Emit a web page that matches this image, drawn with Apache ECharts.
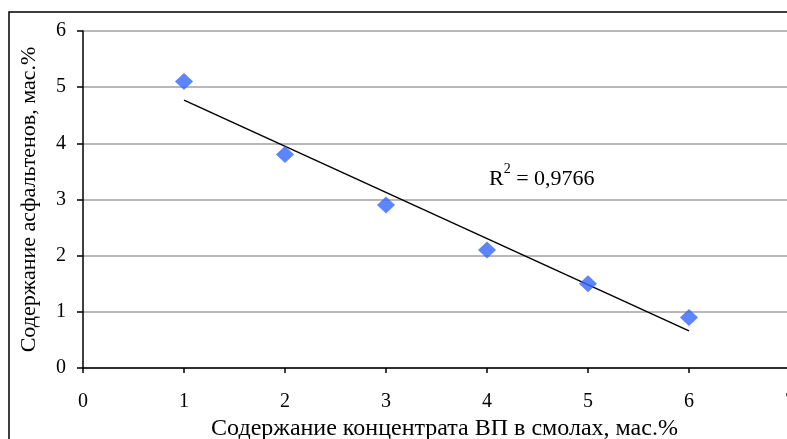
<!DOCTYPE html>
<html>
<head>
<meta charset="utf-8">
<script src="https://cdn.jsdelivr.net/npm/echarts@6/dist/echarts.min.js"></script>
<style>
  html, body { margin: 0; padding: 0; overflow: hidden; background: #fff; }
  #chart { width: 800px; height: 439px; }
</style>
</head>
<body>
<div id="chart"></div>
<script>
  // data
  var xValues = [1, 2, 3, 4, 5, 6];
  var yValues = [5.1, 3.8, 2.9, 2.1, 1.5, 0.9];
  var trendX = [1, 6];
  var trendY = [4.77, 0.66];
  var r2Text = '0,9766';

  var points = xValues.map(function (x, i) { return [x, yValues[i]]; });
  var trend = trendX.map(function (x, i) { return [x, trendY[i]]; });

  var font = '"Liberation Serif", "Times New Roman", serif';
  var echart = echarts.init(document.getElementById('chart'));
  var option = {
    animation: false,
    textStyle: { fontFamily: font },
    grid: { left: 83, right: 10, top: 31, bottom: 71, containLabel: false, outerBoundsMode: 'none' },
    xAxis: {
      type: 'value', min: 0, max: 7, interval: 1,
      name: 'Содержание концентрата ВП в смолах, мас.%',
      nameLocation: 'middle', nameGap: 49,
      nameTextStyle: { fontFamily: font, fontSize: 24, color: '#000', padding: [0, 0, 0, 16] },
      axisLine: { onZero: false, lineStyle: { color: '#000', width: 1.5 } },
      axisTick: { show: true, inside: false, length: 5, lineStyle: { color: '#000', width: 1.5 } },
      axisLabel: { margin: 24, fontFamily: font, fontSize: 20, color: '#000', showMaxLabel: true, hideOverlap: false },
      splitLine: { show: false }
    },
    yAxis: {
      type: 'value', min: 0, max: 6, interval: 1,
      name: 'Содержание асфальтенов, мас.%',
      nameLocation: 'middle', nameGap: 43,
      nameTextStyle: { fontFamily: font, fontSize: 22, color: '#000' },
      axisLine: { show: true, onZero: false, lineStyle: { color: '#000', width: 1.5 } },
      axisTick: { show: true, inside: false, length: 6, lineStyle: { color: '#000', width: 1.5 } },
      axisLabel: { margin: 17, fontFamily: font, fontSize: 20, color: '#000' },
      splitLine: { show: true, lineStyle: { color: '#a0a0a0', width: 1.5 } }
    },
    graphic: [
      {
        type: 'rect', silent: true, z: 100,
        shape: { x: 9, y: 12, width: 900, height: 600 },
        style: { fill: 'none', stroke: '#000', lineWidth: 1.5 }
      },
      {
        type: 'text', left: 489, top: 162, z: 100,
        style: {
          text: '{r|R}{s|2}{r| = ' + r2Text + '}',
          rich: {
            r: { fontFamily: font, fontSize: 22, fill: '#000', verticalAlign: 'bottom', lineHeight: 28 },
            s: { fontFamily: font, fontSize: 14, fill: '#000', verticalAlign: 'top', lineHeight: 28, padding: [0, 0, 14, 0] }
          }
        }
      }
    ],
    series: [
      {
        type: 'line', data: trend, showSymbol: false, symbol: 'none',
        lineStyle: { color: '#000', width: 1.5 }, z: 2
      },
      {
        type: 'scatter', data: points, symbol: 'diamond', symbolSize: [18, 17],
        itemStyle: { color: '#3366ff' }, z: 3
      }
    ]
  };
  echart.setOption(option);
</script>
</body>
</html>
